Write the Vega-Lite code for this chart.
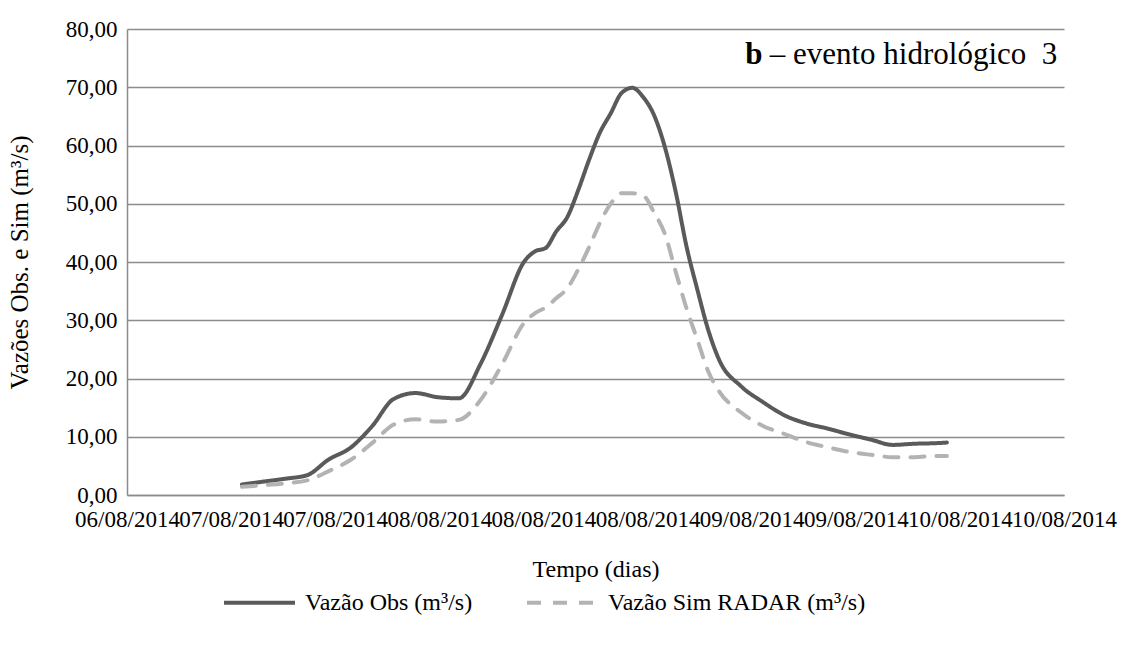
{
  "$schema": "https://vega.github.io/schema/vega-lite/v6.json",
  "width": 937,
  "height": 466,
  "autosize": {"type": "none"},
  "padding": {"left": 127, "top": 29, "right": 61, "bottom": 150},
  "background": "white",
  "config": {
    "view": {"stroke": null},
    "font": "Liberation Serif",
    "axis": {
      "labelFont": "Liberation Serif",
      "titleFont": "Liberation Serif",
      "labelColor": "black",
      "titleColor": "black",
      "titleFontWeight": "normal",
      "domainColor": "#8c8c8c",
      "domainWidth": 1.5,
      "gridColor": "#8c8c8c",
      "gridWidth": 1.5,
      "ticks": false,
      "tickSize": 0
    },
    "legend": {"labelFont": "Liberation Serif"}
  },
  "layer": [
    {
      "data": {
        "values": [
          {"t": "2014-08-07T07:00", "serie": "Vazão Obs (m³/s)", "v": 1.8},
          {"t": "2014-08-07T09:00", "serie": "Vazão Obs (m³/s)", "v": 2.3},
          {"t": "2014-08-07T11:00", "serie": "Vazão Obs (m³/s)", "v": 2.8},
          {"t": "2014-08-07T13:00", "serie": "Vazão Obs (m³/s)", "v": 3.4},
          {"t": "2014-08-07T15:00", "serie": "Vazão Obs (m³/s)", "v": 6.1},
          {"t": "2014-08-07T17:00", "serie": "Vazão Obs (m³/s)", "v": 8.1},
          {"t": "2014-08-07T19:00", "serie": "Vazão Obs (m³/s)", "v": 11.8},
          {"t": "2014-08-07T21:00", "serie": "Vazão Obs (m³/s)", "v": 16.5},
          {"t": "2014-08-07T23:00", "serie": "Vazão Obs (m³/s)", "v": 17.5},
          {"t": "2014-08-08T01:00", "serie": "Vazão Obs (m³/s)", "v": 16.8},
          {"t": "2014-08-08T03:00", "serie": "Vazão Obs (m³/s)", "v": 16.6},
          {"t": "2014-08-08T05:00", "serie": "Vazão Obs (m³/s)", "v": 22.5},
          {"t": "2014-08-08T07:00", "serie": "Vazão Obs (m³/s)", "v": 31.0},
          {"t": "2014-08-08T09:00", "serie": "Vazão Obs (m³/s)", "v": 40.0},
          {"t": "2014-08-08T10:00", "serie": "Vazão Obs (m³/s)", "v": 41.8},
          {"t": "2014-08-08T11:00", "serie": "Vazão Obs (m³/s)", "v": 42.4},
          {"t": "2014-08-08T12:00", "serie": "Vazão Obs (m³/s)", "v": 45.3},
          {"t": "2014-08-08T13:00", "serie": "Vazão Obs (m³/s)", "v": 47.7},
          {"t": "2014-08-08T14:00", "serie": "Vazão Obs (m³/s)", "v": 52.3},
          {"t": "2014-08-08T15:00", "serie": "Vazão Obs (m³/s)", "v": 57.5},
          {"t": "2014-08-08T16:00", "serie": "Vazão Obs (m³/s)", "v": 62.2},
          {"t": "2014-08-08T17:00", "serie": "Vazão Obs (m³/s)", "v": 65.5},
          {"t": "2014-08-08T18:00", "serie": "Vazão Obs (m³/s)", "v": 69.0},
          {"t": "2014-08-08T19:00", "serie": "Vazão Obs (m³/s)", "v": 69.9},
          {"t": "2014-08-08T20:00", "serie": "Vazão Obs (m³/s)", "v": 68.3},
          {"t": "2014-08-08T21:00", "serie": "Vazão Obs (m³/s)", "v": 65.2},
          {"t": "2014-08-08T22:00", "serie": "Vazão Obs (m³/s)", "v": 59.7},
          {"t": "2014-08-08T23:00", "serie": "Vazão Obs (m³/s)", "v": 52.0},
          {"t": "2014-08-09T00:00", "serie": "Vazão Obs (m³/s)", "v": 42.6},
          {"t": "2014-08-09T01:00", "serie": "Vazão Obs (m³/s)", "v": 35.2},
          {"t": "2014-08-09T02:00", "serie": "Vazão Obs (m³/s)", "v": 28.3},
          {"t": "2014-08-09T03:00", "serie": "Vazão Obs (m³/s)", "v": 23.2},
          {"t": "2014-08-09T05:00", "serie": "Vazão Obs (m³/s)", "v": 18.7},
          {"t": "2014-08-09T07:00", "serie": "Vazão Obs (m³/s)", "v": 16.0},
          {"t": "2014-08-09T09:00", "serie": "Vazão Obs (m³/s)", "v": 13.7},
          {"t": "2014-08-09T11:00", "serie": "Vazão Obs (m³/s)", "v": 12.3},
          {"t": "2014-08-09T13:00", "serie": "Vazão Obs (m³/s)", "v": 11.4},
          {"t": "2014-08-09T15:00", "serie": "Vazão Obs (m³/s)", "v": 10.4},
          {"t": "2014-08-09T17:00", "serie": "Vazão Obs (m³/s)", "v": 9.5},
          {"t": "2014-08-09T19:00", "serie": "Vazão Obs (m³/s)", "v": 8.6},
          {"t": "2014-08-09T21:00", "serie": "Vazão Obs (m³/s)", "v": 8.8},
          {"t": "2014-08-09T23:00", "serie": "Vazão Obs (m³/s)", "v": 8.9},
          {"t": "2014-08-10T00:00", "serie": "Vazão Obs (m³/s)", "v": 9.0},
          {"t": "2014-08-07T07:00", "serie": "Vazão Sim RADAR (m³/s)", "v": 1.4},
          {"t": "2014-08-07T09:00", "serie": "Vazão Sim RADAR (m³/s)", "v": 1.7},
          {"t": "2014-08-07T11:00", "serie": "Vazão Sim RADAR (m³/s)", "v": 2.0},
          {"t": "2014-08-07T13:00", "serie": "Vazão Sim RADAR (m³/s)", "v": 2.5},
          {"t": "2014-08-07T15:00", "serie": "Vazão Sim RADAR (m³/s)", "v": 4.1},
          {"t": "2014-08-07T17:00", "serie": "Vazão Sim RADAR (m³/s)", "v": 6.0},
          {"t": "2014-08-07T19:00", "serie": "Vazão Sim RADAR (m³/s)", "v": 8.9},
          {"t": "2014-08-07T21:00", "serie": "Vazão Sim RADAR (m³/s)", "v": 12.1},
          {"t": "2014-08-07T23:00", "serie": "Vazão Sim RADAR (m³/s)", "v": 13.0},
          {"t": "2014-08-08T01:00", "serie": "Vazão Sim RADAR (m³/s)", "v": 12.6},
          {"t": "2014-08-08T03:00", "serie": "Vazão Sim RADAR (m³/s)", "v": 12.9},
          {"t": "2014-08-08T05:00", "serie": "Vazão Sim RADAR (m³/s)", "v": 16.3},
          {"t": "2014-08-08T07:00", "serie": "Vazão Sim RADAR (m³/s)", "v": 22.5},
          {"t": "2014-08-08T09:00", "serie": "Vazão Sim RADAR (m³/s)", "v": 29.5},
          {"t": "2014-08-08T10:00", "serie": "Vazão Sim RADAR (m³/s)", "v": 31.2},
          {"t": "2014-08-08T11:00", "serie": "Vazão Sim RADAR (m³/s)", "v": 32.2},
          {"t": "2014-08-08T12:00", "serie": "Vazão Sim RADAR (m³/s)", "v": 33.8},
          {"t": "2014-08-08T13:00", "serie": "Vazão Sim RADAR (m³/s)", "v": 35.5},
          {"t": "2014-08-08T14:00", "serie": "Vazão Sim RADAR (m³/s)", "v": 38.7},
          {"t": "2014-08-08T15:00", "serie": "Vazão Sim RADAR (m³/s)", "v": 42.5},
          {"t": "2014-08-08T16:00", "serie": "Vazão Sim RADAR (m³/s)", "v": 46.7},
          {"t": "2014-08-08T17:00", "serie": "Vazão Sim RADAR (m³/s)", "v": 50.0},
          {"t": "2014-08-08T18:00", "serie": "Vazão Sim RADAR (m³/s)", "v": 51.8},
          {"t": "2014-08-08T19:00", "serie": "Vazão Sim RADAR (m³/s)", "v": 51.8},
          {"t": "2014-08-08T20:00", "serie": "Vazão Sim RADAR (m³/s)", "v": 51.4},
          {"t": "2014-08-08T21:00", "serie": "Vazão Sim RADAR (m³/s)", "v": 48.5},
          {"t": "2014-08-08T22:00", "serie": "Vazão Sim RADAR (m³/s)", "v": 44.8},
          {"t": "2014-08-08T23:00", "serie": "Vazão Sim RADAR (m³/s)", "v": 38.3},
          {"t": "2014-08-09T00:00", "serie": "Vazão Sim RADAR (m³/s)", "v": 32.0},
          {"t": "2014-08-09T01:00", "serie": "Vazão Sim RADAR (m³/s)", "v": 26.6},
          {"t": "2014-08-09T02:00", "serie": "Vazão Sim RADAR (m³/s)", "v": 21.2},
          {"t": "2014-08-09T03:00", "serie": "Vazão Sim RADAR (m³/s)", "v": 17.8},
          {"t": "2014-08-09T05:00", "serie": "Vazão Sim RADAR (m³/s)", "v": 14.2},
          {"t": "2014-08-09T07:00", "serie": "Vazão Sim RADAR (m³/s)", "v": 11.9},
          {"t": "2014-08-09T09:00", "serie": "Vazão Sim RADAR (m³/s)", "v": 10.5},
          {"t": "2014-08-09T11:00", "serie": "Vazão Sim RADAR (m³/s)", "v": 9.1},
          {"t": "2014-08-09T13:00", "serie": "Vazão Sim RADAR (m³/s)", "v": 8.2},
          {"t": "2014-08-09T15:00", "serie": "Vazão Sim RADAR (m³/s)", "v": 7.4},
          {"t": "2014-08-09T17:00", "serie": "Vazão Sim RADAR (m³/s)", "v": 6.9},
          {"t": "2014-08-09T19:00", "serie": "Vazão Sim RADAR (m³/s)", "v": 6.5},
          {"t": "2014-08-09T21:00", "serie": "Vazão Sim RADAR (m³/s)", "v": 6.5},
          {"t": "2014-08-09T23:00", "serie": "Vazão Sim RADAR (m³/s)", "v": 6.7},
          {"t": "2014-08-10T00:00", "serie": "Vazão Sim RADAR (m³/s)", "v": 6.7}
        ]
      },
      "mark": {"type": "line", "strokeWidth": 4, "strokeCap": "round", "strokeJoin": "round", "interpolate": "monotone"},
      "encoding": {
        "x": {
          "field": "t",
          "type": "temporal",
          "scale": {
            "domain": [
              {"year": 2014, "month": 8, "date": 6, "hours": 20, "minutes": 24},
              {"year": 2014, "month": 8, "date": 10, "hours": 10, "minutes": 48}
            ]
          },
          "axis": {
            "title": "Tempo (dias)",
            "format": "%d/%m/%Y",
            "values": [
              {"year": 2014, "month": 8, "date": 6, "hours": 20, "minutes": 24},
              {"year": 2014, "month": 8, "date": 7, "hours": 6, "minutes": 0},
              {"year": 2014, "month": 8, "date": 7, "hours": 15, "minutes": 36},
              {"year": 2014, "month": 8, "date": 8, "hours": 1, "minutes": 12},
              {"year": 2014, "month": 8, "date": 8, "hours": 10, "minutes": 48},
              {"year": 2014, "month": 8, "date": 8, "hours": 20, "minutes": 24},
              {"year": 2014, "month": 8, "date": 9, "hours": 6, "minutes": 0},
              {"year": 2014, "month": 8, "date": 9, "hours": 15, "minutes": 36},
              {"year": 2014, "month": 8, "date": 10, "hours": 1, "minutes": 12},
              {"year": 2014, "month": 8, "date": 10, "hours": 10, "minutes": 48}
            ],
            "grid": false,
            "labelFont": "Liberation Serif",
            "titleFont": "Liberation Serif",
            "labelFontSize": 23,
            "labelPadding": 13,
            "labelOverlap": false,
            "labelFlush": false,
            "labelLimit": 300,
            "titleFontSize": 24,
            "titlePadding": 26
          }
        },
        "y": {
          "field": "v",
          "type": "quantitative",
          "scale": {"domain": [0, 80], "nice": false},
          "axis": {
            "title": "Vazões Obs. e Sim (m³/s)",
            "values": [0, 10, 20, 30, 40, 50, 60, 70, 80],
            "labelExpr": "replace(format(datum.value, '.2f'), '.', ',')",
            "grid": true,
            "labelFont": "Liberation Serif",
            "titleFont": "Liberation Serif",
            "labelFontSize": 23,
            "labelPadding": 10,
            "titleFontSize": 25,
            "titlePadding": 33
          }
        },
        "color": {
          "field": "serie",
          "type": "nominal",
          "scale": {
            "domain": ["Vazão Obs (m³/s)", "Vazão Sim RADAR (m³/s)"],
            "range": ["#5a5a5a", "#b3b3b3"]
          },
          "legend": {
            "title": null,
            "orient": "none",
            "legendX": 95,
            "legendY": 536,
            "direction": "horizontal",
            "symbolType": "stroke",
            "symbolSize": 5041,
            "symbolStrokeWidth": 4,
            "labelFont": "Liberation Serif",
            "labelFontSize": 24,
            "labelColor": "black",
            "labelLimit": 500,
            "labelOffset": 8,
            "columnPadding": 46
          }
        },
        "strokeDash": {
          "field": "serie",
          "type": "nominal",
          "scale": {
            "domain": ["Vazão Obs (m³/s)", "Vazão Sim RADAR (m³/s)"],
            "range": [[1, 0], [14, 12]]
          },
          "legend": {
            "title": null,
            "orient": "none",
            "legendX": 95,
            "legendY": 536,
            "direction": "horizontal",
            "symbolType": "stroke",
            "symbolSize": 5041,
            "symbolStrokeWidth": 4,
            "labelFont": "Liberation Serif",
            "labelFontSize": 24,
            "labelColor": "black",
            "labelLimit": 500,
            "labelOffset": 8,
            "columnPadding": 46
          }
        }
      }
    },
    {
      "data": {"values": [{"t": "2014-08-09T05:24", "v": 74.0, "label": "b"}]},
      "mark": {"type": "text", "align": "left", "baseline": "alphabetic", "fontSize": 31, "fontWeight": "bold", "font": "Liberation Serif", "color": "black"},
      "encoding": {
        "x": {"field": "t", "type": "temporal"},
        "y": {"field": "v", "type": "quantitative"},
        "text": {"field": "label"}
      }
    },
    {
      "data": {"values": [{"t": "2014-08-09T07:40", "v": 74.0, "label": "– evento hidrológico \u00a03"}]},
      "mark": {"type": "text", "align": "left", "baseline": "alphabetic", "fontSize": 31, "font": "Liberation Serif", "color": "black"},
      "encoding": {
        "x": {"field": "t", "type": "temporal"},
        "y": {"field": "v", "type": "quantitative"},
        "text": {"field": "label"}
      }
    }
  ]
}
